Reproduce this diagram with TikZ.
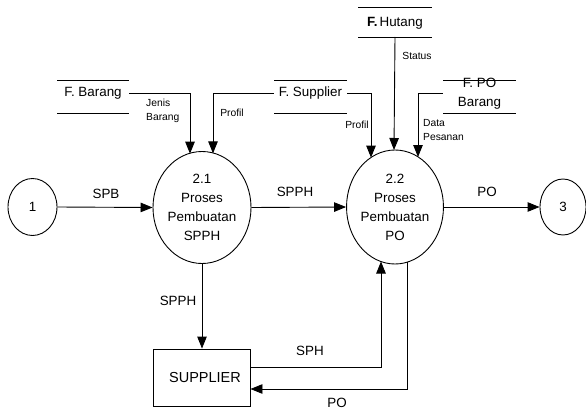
\documentclass[tikz,border=0pt]{standalone}
\usepackage{fontspec}
\setmainfont{Liberation Sans}
\usetikzlibrary{arrows.meta,shapes.geometric,calc}
\tikzset{
  ln/.style={line width=0.9pt, draw=black},
  arr/.style={ln, -{Triangle[length=12pt,width=9.5pt]}},
  mainfont/.style={font=\fontsize{13.4}{19}\selectfont},
  smallfont/.style={font=\fontsize{10.3}{14}\selectfont},
  term/.style={ellipse, ln, inner sep=0pt, mainfont},
  proc/.style={ellipse, ln, inner sep=0pt, align=center, mainfont},
  storetext/.style={inner sep=0pt, mainfont, align=center},
  flowlbl/.style={inner sep=0pt, mainfont},
  smalllbl/.style={inner sep=0pt, smallfont, align=left},
}
\begin{document}
\begin{tikzpicture}[x=1pt,y=-1pt]
\useasboundingbox (0,0) rectangle (586,412);

% external entities / connectors
\node[term, minimum width=49pt, minimum height=57pt] (c1) at (32.5,207) {1};
\node[term, minimum width=46pt, minimum height=56pt] (c3) at (563,207) {3};

% processes
\node[proc, minimum width=98pt, minimum height=112pt] (p21) at (202,207.5) {2.1\\Proses\\Pembuatan\\SPPH};
\node[proc, minimum width=96pt, minimum height=114pt] (p22) at (395,207) {2.2\\Proses\\Pembuatan\\PO};

% supplier
\node[rectangle, ln, minimum width=97pt, minimum height=57pt, inner sep=0pt,
      font=\fontsize{14.5}{17}\selectfont] (sup) at (201.5,377.5) {\hspace*{7pt}SUPPLIER};

% data stores
\node[storetext, minimum width=72pt] (fb) at (93,93) {F. Barang};
\draw[ln] ($(fb.center)+(-36,-13)$) -- ($(fb.center)+(36,-13)$)
          ($(fb.center)+(-36,20)$) -- ($(fb.center)+(36,20)$);

\node[storetext, minimum width=73pt] (fs) at (310.5,93) {F. Supplier};
\draw[ln] ($(fs.center)+(-36.5,-13)$) -- ($(fs.center)+(36.5,-13)$)
          ($(fs.center)+(-36.5,20)$) -- ($(fs.center)+(36.5,20)$);

\node[storetext, minimum width=74pt] (fh) at (395,23) {\textbf{F.}\hspace{2pt}Hutang};
\draw[ln] ($(fh.center)+(-37,-16)$) -- ($(fh.center)+(37,-16)$)
          ($(fh.center)+(-37,14)$) -- ($(fh.center)+(37,14)$);
\coordinate (fhb) at ($(fh.center)+(0,14)$);

\node[storetext, minimum width=73pt] (fpo) at (479.5,93.5) {F. PO\\Barang};
\draw[ln] ($(fpo.center)+(-36.5,-13.5)$) -- ($(fpo.center)+(36.5,-13.5)$)
          ($(fpo.center)+(-36.5,19.5)$) -- ($(fpo.center)+(36.5,19.5)$);

% arrow end points on ellipse borders
\coordinate (t21a) at (190,153.7);
\coordinate (t21b) at (213,153.4);
\coordinate (t22a) at (371,157.6);
\coordinate (t22b) at (394,150);
\coordinate (t22c) at (418,157);
\coordinate (b22a) at (381,261.5);
\coordinate (b22b) at (407,262.2);

% main flow
\draw[arr] (c1.east) -- (p21.west);
\draw[arr] (p21.east) -- (p22.west);
\draw[arr] (p22.east) -- (c3.west);

% store flows
\draw[arr] (fb.east) -| (t21a);
\draw[arr] (fs.west) -| (t21b);
\draw[arr] (fs.east) -| (t22a);
\draw[arr] (fhb) -- (t22b);
\draw[arr] (fpo.west |- fs.west) -| (t22c);

% supplier flows
\draw[arr] (p21.south) -- (p21.south |- sup.north);
\draw[arr] ([yshift=10.5pt]sup.east) -| (b22a);
\draw[arr] (b22b) |- ([yshift=-11.5pt]sup.east);

% flow labels
\node[flowlbl] at (106,194) {SPB};
\node[flowlbl] at (295,192) {SPPH};
\node[flowlbl] at (487,192) {PO};
\node[flowlbl] at (178,301) {SPPH};
\node[flowlbl] at (310,351) {SPH};
\node[flowlbl] at (337,403) {PO};

\node[smalllbl, anchor=west] at (146,110.5) {Jenis\\Barang};
\node[smalllbl] at (232,113) {Profil};
\node[smalllbl] at (357,125) {Profil};
\node[smalllbl] at (417,56) {Status};
\node[smalllbl, anchor=west] at (423,130) {Data\\Pesanan};
\end{tikzpicture}
\end{document}
